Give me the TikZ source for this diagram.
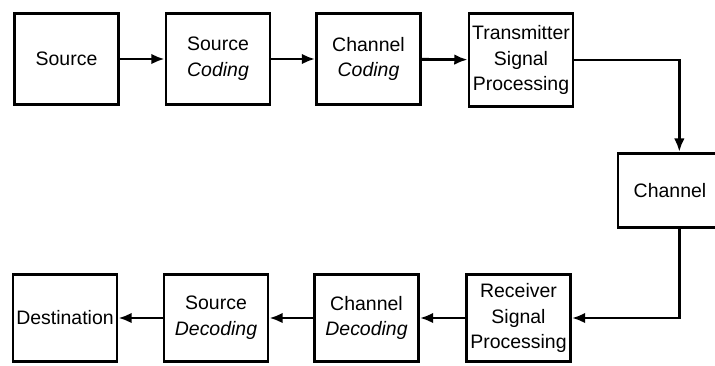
\documentclass[tikz,border=0pt]{standalone}
\usepackage{fontspec}
\setmainfont{Liberation Sans}
\usetikzlibrary{arrows.meta}

\begin{document}
\begin{tikzpicture}[x=0.75pt,y=0.75pt,yscale=-1,
  blockbox/.style={draw,line width=2.1pt,align=center,inner sep=0.75pt,
    minimum width=78pt,minimum height=68pt,font=\fontsize{14.6}{19.2}\selectfont},
  link/.style={line width=2.1pt,-{Latex[length=10pt,width=8pt]}}]
%set diagram size: 715 x 365
\clip (0,0) rectangle (715,365);

%Shape: Rectangle [id:src]
\node [blockbox] (src) at (66.5,59) {Source};
%Shape: Rectangle [id:srccod]
\node [blockbox] (srccod) at (218,59) {Source\\\textit{Coding}};
%Shape: Rectangle [id:chcod]
\node [blockbox] (chcod) at (368.5,59) {Channel\\\textit{Coding}};
%Shape: Rectangle [id:tx]
\node [blockbox,minimum height=70pt] (tx) at (521,60) {Transmitter\\Signal\\Processing};
%Shape: Rectangle [id:chan]
\node [blockbox,minimum width=84pt,minimum height=56pt] (chan) at (674,190.5) {\hspace*{-6pt}Channel};
%Shape: Rectangle [id:rx]
\node [blockbox,minimum height=65pt] (rx) at (518.5,318) {Receiver\\Signal\\Processing};
%Shape: Rectangle [id:chdec]
\node [blockbox,minimum height=65pt] (chdec) at (366.5,318) {Channel\\\textit{Decoding}};
%Shape: Rectangle [id:srcdec]
\node [blockbox,minimum height=65pt] (srcdec) at (216,318) {Source\\\textit{Decoding}};
%Shape: Rectangle [id:dest]
\node [blockbox,minimum height=65pt] (dest) at (65,318) {Destination};

%Straight Lines
\draw [link] (src) -- (srccod);
\draw [link] (srccod) -- (chcod);
\draw [link] (chcod) -- (tx);
\draw [link] (tx.east) -| ([xshift=4pt]chan.north);
\draw [link] ([xshift=4pt]chan.south) |- (rx.east);
\draw [link] (rx) -- (chdec);
\draw [link] (chdec) -- (srcdec);
\draw [link] (srcdec) -- (dest);

\end{tikzpicture}
\end{document}
